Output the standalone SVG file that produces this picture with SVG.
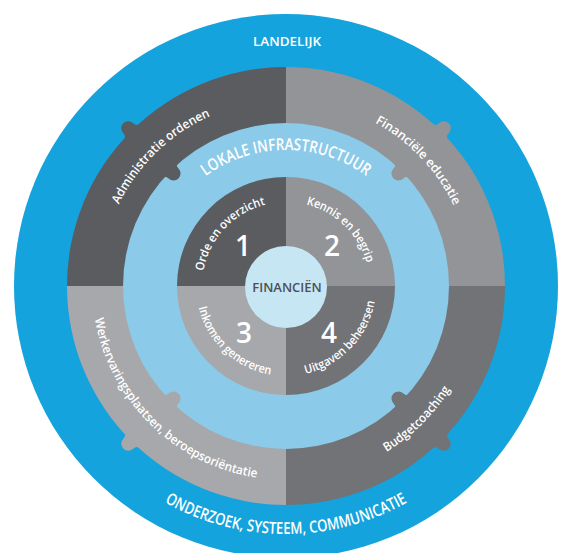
<svg xmlns="http://www.w3.org/2000/svg" xmlns:xlink="http://www.w3.org/1999/xlink" width="563" height="553" viewBox="0 0 563 553">
<style>
.t{font-family:"Open Sans","Liberation Sans",sans-serif;fill:#ffffff;font-weight:600}
.ring{font-size:12.5px}
.inner{font-size:12px}
.big{font-size:16.5px}
.num{font-size:28px;text-anchor:middle}
.q1{fill:#5a5c60}.q2{fill:#929497}.q3{fill:#a6a8ab}.q4{fill:#717377}
</style>
<defs>
<path id="knob" d="M-12,1 Q-7,1 -7,-4 A7,7 0 1 1 7,-4 Q7,1 12,1 Z"/>
<path id="pLokale" d="M168.2,218 A136,136 0 0 1 403.8,218"/>
<path id="pOnder" d="M71.2,410 A248,248 0 0 0 500.8,410"/>
<path id="pAdmin" d="M105.5,331 A186,186 0 0 1 337.3,107.2"/>
<path id="pFin" d="M242.6,105.1 A186,186 0 0 1 464.3,338.8"/>
<path id="pWerk" d="M98.2,237.4 A194,194 0 0 0 337.8,472.9"/>
<path id="pBudget" d="M234.2,472.9 A194,194 0 0 0 473.8,237.4"/>
<path id="pOrde" d="M205.7,310.6 A84,84 0 0 1 304.9,204.2"/>
<path id="pKennis" d="M262.8,205.3 A84,84 0 0 1 367.5,306.3"/>
<path id="pInkomen" d="M198.3,265.75 A90,90 0 0 0 312.3,372.1"/>
<path id="pUitgaven" d="M264.7,373.4 A90,90 0 0 0 372.4,260.7"/>
</defs>
<rect width="563" height="553" fill="#ffffff"/>
<g id="landelijk">
<circle cx="286" cy="286" r="272" fill="#14a3dc"/>
<text class="t" x="287" y="46" font-size="13" text-anchor="middle" textLength="68" lengthAdjust="spacingAndGlyphs">LANDELIJK</text>
<text class="t big"><textPath xlink:href="#pOnder" startOffset="50%" text-anchor="middle" textLength="254" lengthAdjust="spacingAndGlyphs">ONDERZOEK, SYSTEEM, COMMUNICATIE</textPath></text>
</g>
<g id="administratie">
<path class="q1" d="M286,286 L67,286 A219,219 0 0 1 286,67 Z"/>
<use xlink:href="#knob" class="q1" transform="translate(131.1,131.1) rotate(-45)"/>
</g>
<g id="financiele-educatie">
<path class="q2" d="M286,286 L286,67 A219,219 0 0 1 505,286 Z"/>
<use xlink:href="#knob" class="q2" transform="translate(440.9,131.1) rotate(45)"/>
</g>
<g id="budgetcoaching">
<path class="q4" d="M286,286 L505,286 A219,219 0 0 1 286,505 Z"/>
<use xlink:href="#knob" class="q4" transform="translate(440.9,440.9) rotate(135)"/>
</g>
<g id="werkervaring">
<path class="q3" d="M286,286 L286,505 A219,219 0 0 1 67,286 Z"/>
<use xlink:href="#knob" class="q3" transform="translate(131.1,440.9) rotate(225)"/>
</g>
<g id="lokale-infrastructuur">
<circle cx="286" cy="286" r="163" fill="#8ccae9"/>
<use xlink:href="#knob" class="q1" transform="translate(170.7,170.7) rotate(135)"/>
<use xlink:href="#knob" class="q2" transform="translate(401.3,170.7) rotate(225)"/>
<use xlink:href="#knob" class="q4" transform="translate(401.3,401.3) rotate(315)"/>
<use xlink:href="#knob" class="q3" transform="translate(170.7,401.3) rotate(45)"/>
<text class="t big"><textPath xlink:href="#pLokale" startOffset="50%" text-anchor="middle" textLength="172" lengthAdjust="spacingAndGlyphs">LOKALE INFRASTRUCTUUR</textPath></text>
</g>
<g id="ring-labels">
<text class="t ring"><textPath xlink:href="#pAdmin" startOffset="50%" text-anchor="middle" textLength="130" lengthAdjust="spacingAndGlyphs">Administratie ordenen</textPath></text>
<text class="t ring"><textPath xlink:href="#pFin" startOffset="50%" text-anchor="middle" textLength="116" lengthAdjust="spacingAndGlyphs">Financiële educatie</textPath></text>
<text class="t ring"><textPath xlink:href="#pWerk" startOffset="50%" text-anchor="middle" textLength="242" lengthAdjust="spacingAndGlyphs">Werkervaringsplaatsen, beroepsoriëntatie</textPath></text>
<text class="t ring"><textPath xlink:href="#pBudget" startOffset="50%" text-anchor="middle" textLength="90" lengthAdjust="spacingAndGlyphs">Budgetcoaching</textPath></text>
</g>
<g id="q-orde">
<path class="q1" d="M286,286 L177,286 A109,109 0 0 1 286,177 Z"/>
<text class="t num" x="243" y="256">1</text>
<text class="t inner"><textPath xlink:href="#pOrde" startOffset="50%" text-anchor="middle" textLength="96" lengthAdjust="spacingAndGlyphs">Orde en overzicht</textPath></text>
</g>
<g id="q-kennis">
<path class="q2" d="M286,286 L286,177 A109,109 0 0 1 395,286 Z"/>
<text class="t num" x="332" y="256">2</text>
<text class="t inner"><textPath xlink:href="#pKennis" startOffset="50%" text-anchor="middle" textLength="88" lengthAdjust="spacingAndGlyphs">Kennis en begrip</textPath></text>
</g>
<g id="q-uitgaven">
<path class="q4" d="M286,286 L395,286 A109,109 0 0 1 286,395 Z"/>
<text class="t num" x="329" y="343">4</text>
<text class="t inner"><textPath xlink:href="#pUitgaven" startOffset="50%" text-anchor="middle" textLength="106" lengthAdjust="spacingAndGlyphs">Uitgaven beheersen</textPath></text>
</g>
<g id="q-inkomen">
<path class="q3" d="M286,286 L286,395 A109,109 0 0 1 177,286 Z"/>
<text class="t num" x="244" y="343">3</text>
<text class="t inner"><textPath xlink:href="#pInkomen" startOffset="50%" text-anchor="middle" textLength="104" lengthAdjust="spacingAndGlyphs">Inkomen genereren</textPath></text>
</g>
<g id="financien">
<circle cx="286" cy="287" r="41" fill="#c6e6f4"/>
<text x="287" y="292" font-family="'Open Sans','Liberation Sans',sans-serif" font-weight="600" font-size="13" fill="#4b5058" text-anchor="middle">FINANCIËN</text>
</g>
</svg>
